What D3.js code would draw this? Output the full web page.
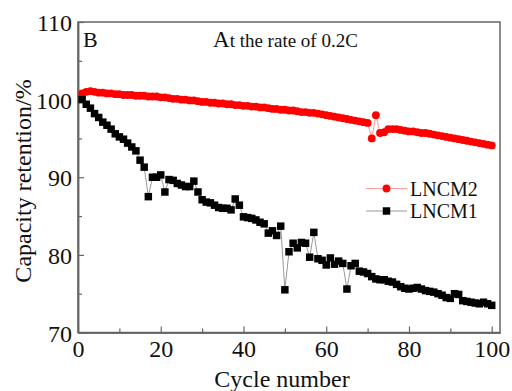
<!DOCTYPE html>
<html>
<head>
<meta charset="utf-8">
<script src="https://cdn.jsdelivr.net/npm/d3@7"></script>
<style>
  body { margin: 0; background: #fff; }
  svg text { font-family: "Liberation Serif", "Times New Roman", serif; fill: #111; }
</style>
</head>
<body>
<div id="visual"></div>
<script>
// cycle numbers 1..100
const cycles = [
  1,2,3,4,5,6,7,8,9,10,11,12,13,14,15,16,17,18,19,20,
  21,22,23,24,25,26,27,28,29,30,31,32,33,34,35,36,37,38,39,40,
  41,42,43,44,45,46,47,48,49,50,51,52,53,54,55,56,57,58,59,60,
  61,62,63,64,65,66,67,68,69,70,71,72,73,74,75,76,77,78,79,80,
  81,82,83,84,85,86,87,88,89,90,91,92,93,94,95,96,97,98,99,100
];

const lncm2 = [
  100.8,101.0,101.1,101.0,100.9,100.9,100.8,100.8,100.7,100.7,
  100.6,100.6,100.6,100.5,100.5,100.5,100.4,100.4,100.4,100.3,
  100.3,100.2,100.1,100.1,100.0,100.0,99.9,99.9,99.8,99.7,
  99.7,99.6,99.6,99.5,99.5,99.4,99.4,99.3,99.3,99.2,
  99.2,99.1,99.1,99.0,99.0,98.9,98.8,98.8,98.7,98.7,
  98.6,98.6,98.5,98.4,98.4,98.3,98.3,98.2,98.1,98.0,
  97.9,97.8,97.7,97.6,97.5,97.4,97.3,97.2,97.1,97.0,
  95.0,98.0,95.7,95.8,96.2,96.2,96.2,96.1,96.0,95.9,
  95.9,95.8,95.7,95.7,95.6,95.5,95.4,95.3,95.2,95.1,
  95.0,94.9,94.8,94.7,94.6,94.5,94.4,94.3,94.2,94.1
];

const lncm1 = [
  100.0,99.4,98.9,98.2,97.7,97.1,96.7,96.2,95.6,95.2,
  94.9,94.4,93.9,93.4,92.2,91.3,87.5,90.0,90.0,90.3,
  88.1,89.7,89.6,89.2,89.0,88.8,88.8,89.5,88.1,87.1,
  86.8,86.7,86.4,86.1,86.0,86.0,85.8,87.2,86.4,84.9,
  84.8,84.7,84.5,84.2,84.0,82.8,83.1,82.5,83.7,75.5,
  80.4,81.5,80.9,81.6,81.5,79.7,82.9,79.5,79.3,78.7,
  79.6,78.8,79.2,78.9,75.6,78.6,78.9,77.9,77.8,77.6,
  77.2,76.9,76.8,76.8,76.6,76.5,76.2,75.9,75.7,75.6,
  75.7,75.8,75.6,75.4,75.3,75.2,75.0,74.8,74.5,74.4,
  75.0,74.9,74.1,74.0,73.9,73.8,73.7,73.9,73.7,73.5
];

const xTicks = [0, 20, 40, 60, 80, 100];
const xMinor = [10, 30, 50, 70, 90];
const yTicks = [70, 80, 90, 100, 110];
const yMinor = [75, 85, 95, 105];

const FONT = "Liberation Serif, Times New Roman, serif";

let width = 512, height = 391;
let margin = {top: 22, right: 12, bottom: 58.5, left: 78};

let svg = d3.select("#visual").append("svg")
    .attr("width", width)
    .attr("height", height)
    .attr("font-family", FONT);

let x = d3.scaleLinear().domain([0, 102]).range([margin.left, width - margin.right]);
let y = d3.scaleLinear().domain([70, 110]).range([height - margin.bottom, margin.top]);

let axisColor = "#666";

// frame
svg.append("rect")
    .attr("x", x(0)).attr("y", y(110))
    .attr("width", x(102) - x(0)).attr("height", y(70) - y(110))
    .attr("fill", "none").attr("stroke", axisColor).attr("stroke-width", 1.5);

// x axis
let gx = svg.append("g")
    .attr("transform", "translate(0," + y(70) + ")")
    .call(d3.axisBottom(x).tickValues(xTicks).tickSize(-6).tickSizeOuter(0).tickPadding(7));
svg.append("g")
    .attr("transform", "translate(0," + y(70) + ")")
    .call(d3.axisBottom(x).tickValues(xMinor).tickSize(-4).tickSizeOuter(0).tickFormat(""));

// y axis
let gy = svg.append("g")
    .attr("transform", "translate(" + x(0) + ",0)")
    .call(d3.axisLeft(y).tickValues(yTicks).tickSize(-6).tickSizeOuter(0).tickPadding(6));
svg.append("g")
    .attr("transform", "translate(" + x(0) + ",0)")
    .call(d3.axisLeft(y).tickValues(yMinor).tickSize(-4).tickSizeOuter(0).tickFormat(""));

// d3 axes put sans-serif on their groups, override it
svg.selectAll("g").attr("font-family", FONT).attr("font-size", 24);
svg.selectAll(".domain").attr("stroke", axisColor).attr("stroke-width", 1.5);
svg.selectAll(".tick line").attr("stroke", axisColor).attr("stroke-width", 1.2);
svg.selectAll(".tick text").attr("fill", "#111");
gy.selectAll(".tick text").attr("dy", "0.36em");

// axis titles
svg.append("text")
    .attr("x", 282).attr("y", 387)
    .attr("text-anchor", "middle")
    .style("font-size", "24px")
    .text("Cycle number");

svg.append("text")
    .attr("transform", "translate(31,181) rotate(-90)")
    .attr("text-anchor", "middle")
    .style("font-size", "24px")
    .text("Capacity retention/%");

// panel label and title
svg.append("text")
    .attr("x", 83).attr("y", 47)
    .style("font-size", "22px")
    .text("B");

let title = svg.append("text")
    .attr("x", 213).attr("y", 47)
    .style("font-size", "19px");
title.append("tspan").style("font-size", "23px").text("A");
title.append("tspan").text("t the rate of 0.2C");

// series
let series = [
  {name: "LNCM2", values: lncm2, color: "#ff0000", line: "#ff9a9a", shape: "circle"},
  {name: "LNCM1", values: lncm1, color: "#000000", line: "#999999", shape: "square"}
];

let line = d3.line()
    .x(function (d) { return x(d[0]); })
    .y(function (d) { return y(d[1]); });

function marker(s) {
    return d3.symbol()
        .type(s.shape == "circle" ? d3.symbolCircle : d3.symbolSquare)
        .size(s.shape == "circle" ? 48 : 56);
}

series.forEach(function (s) {
    let pts = cycles.map(function (c, i) { return [c, s.values[i]]; });
    svg.append("path")
        .datum(pts)
        .attr("d", line)
        .attr("fill", "none")
        .attr("stroke", s.line)
        .attr("stroke-width", 1);
    svg.append("g").selectAll("path")
        .data(pts)
        .enter().append("path")
        .attr("transform", function (d) { return "translate(" + x(d[0]) + "," + y(d[1]) + ")"; })
        .attr("d", marker(s))
        .attr("fill", s.color);
});

// legend
let legend = svg.append("g");
series.forEach(function (s, i) {
    let ly = 188.5 + i * 22.5;
    legend.append("line")
        .attr("x1", 366).attr("x2", 407)
        .attr("y1", ly).attr("y2", ly)
        .attr("stroke", s.line).attr("stroke-width", 1);
    legend.append("path")
        .attr("transform", "translate(386.5," + ly + ")")
        .attr("d", marker(s))
        .attr("fill", s.color);
    legend.append("text")
        .attr("x", 410).attr("y", ly + 7)
        .style("font-size", "20px")
        .text(s.name);
});
</script>
</body>
</html>
